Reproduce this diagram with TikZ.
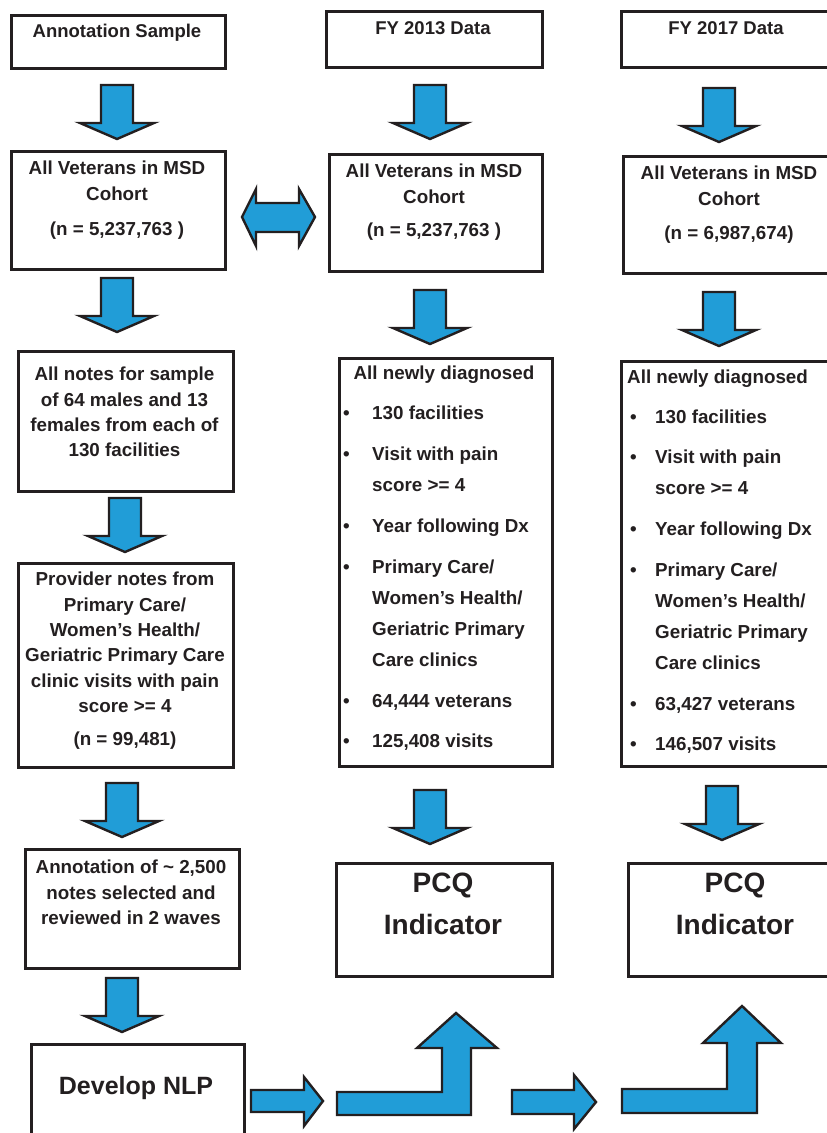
\documentclass[tikz,border=0pt]{standalone}
\usepackage{fontspec}
\setmainfont{Liberation Sans}
\definecolor{arrowblue}{RGB}{33,157,215}
\definecolor{ink}{RGB}{35,31,32}
\tikzset{
  box/.style={draw=ink, line width=2.6pt, inner sep=0pt, anchor=north west},
  txt/.style={font=\bfseries\fontsize{18.8}{25.3}\selectfont, align=center, inner sep=0pt, anchor=north, text=ink},
  toptxt/.style={font=\bfseries\fontsize{18.5}{24}\selectfont, inner sep=0pt, anchor=north, text=ink},
  bigtxt/.style={font=\bfseries\fontsize{28}{42}\selectfont, align=center, inner sep=0pt, anchor=north, text=ink},
  blist/.style={font=\bfseries\fontsize{18.8}{31}\selectfont, align=left, inner sep=0pt, anchor=north west, text=ink},
  barrow/.style={fill=arrowblue, draw=ink, line width=2.4pt, line join=miter},
}
\newcommand\dnarrow[2]{\draw[barrow] (#1-16,#2) -- (#1+16,#2) -- (#1+16,#2+38) -- (#1+37,#2+38) -- (#1,#2+54) -- (#1-37,#2+38) -- (#1-16,#2+38) -- cycle;}
\newcommand\bul[1]{\makebox[#1][l]{\textbullet}}
\newcommand\ind[1]{\makebox[#1]{}}
\begin{document}
\begin{tikzpicture}[x=1pt,y=-1pt]
\useasboundingbox (0,0) rectangle (827,1133);
\clip (0,0) rectangle (827,1133);
% ---------- left column ----------
\node[box, minimum width=214pt, minimum height=53pt] (L1) at (10,14) {};
\node[toptxt] (L1t) at (117,24) {Annotation Sample};
\node[box, minimum width=214pt, minimum height=118pt] (L2) at (10,150) {};
\node[txt] (L2t) at (117,161) {All Veterans in MSD\\Cohort\\[10pt](n = 5,237,763 )};
\node[box, minimum width=215pt, minimum height=140pt] (L3) at (17,350) {};
\node[txt] (L3t) at (124.5,367) {All notes for sample\\of 64 males and 13\\females from each of\\130 facilities};
\node[box, minimum width=215pt, minimum height=204pt] (L4) at (17,562) {};
\node[txt] (L4t) at (125,572) {Provider notes from\\Primary Care/\\Women’s Health/\\Geriatric Primary Care\\clinic visits with pain\\score >= 4\\[8pt](n = 99,481)};
\node[box, minimum width=214pt, minimum height=119pt] (L5) at (24,848) {};
\node[txt] (L5t) at (131,860) {Annotation of \textasciitilde{} 2,500\\notes selected and\\reviewed in 2 waves};
\node[box, minimum width=213pt, minimum height=120pt] (L6) at (30,1043) {};
\node[bigtxt, font=\bfseries\fontsize{25}{30}\selectfont] (L6t) at (136,1076) {Develop NLP};
% ---------- middle column ----------
\node[box, minimum width=216pt, minimum height=56pt] (M1) at (325,10) {};
\node[toptxt] (M1t) at (433,21) {FY 2013 Data};
\node[box, minimum width=213pt, minimum height=117pt] (M2) at (328,153) {};
\node[txt] (M2t) at (434,164) {All Veterans in MSD\\Cohort\\[8pt](n = 5,237,763 )};
\node[box, minimum width=213pt, minimum height=408pt] (M3) at (338,357) {};
\node[txt] (M3h) at (444,366) {All newly diagnosed};
\node[blist] (M3t) at (343,406) {\bul{29pt}130 facilities\\[10pt]
\bul{29pt}Visit with pain\\\ind{29pt}score >= 4\\[10pt]
\bul{29pt}Year following Dx\\[10pt]
\bul{29pt}Primary Care/\\\ind{29pt}Women’s Health/\\\ind{29pt}Geriatric Primary\\\ind{29pt}Care clinics\\[10pt]
\bul{29pt}64,444 veterans\\[9pt]
\bul{29pt}125,408 visits};
\node[box, minimum width=216pt, minimum height=113pt] (M4) at (335,862) {};
\node[bigtxt] (M4t) at (443,873) {PCQ\\Indicator};
% ---------- right column ----------
\node[box, minimum width=216pt, minimum height=56pt] (R1) at (620,10) {};
\node[toptxt] (R1t) at (726,21) {FY 2017 Data};
\node[box, minimum width=214pt, minimum height=117pt] (R2) at (622,155) {};
\node[txt] (R2t) at (729,166) {All Veterans in MSD\\Cohort\\[9pt](n = 6,987,674)};
\node[box, minimum width=216pt, minimum height=405pt] (R3) at (620,360) {};
\node[txt, anchor=north west] (R3h) at (627,370) {All newly diagnosed};
\node[blist] (R3t) at (630,410) {\bul{25pt}130 facilities\\[9pt]
\bul{25pt}Visit with pain\\\ind{25pt}score >= 4\\[10pt]
\bul{25pt}Year following Dx\\[10pt]
\bul{25pt}Primary Care/\\\ind{25pt}Women’s Health/\\\ind{25pt}Geriatric Primary\\\ind{25pt}Care clinics\\[10pt]
\bul{25pt}63,427 veterans\\[9pt]
\bul{25pt}146,507 visits};
\node[box, minimum width=216pt, minimum height=113pt] (R4) at (627,862) {};
\node[bigtxt] (R4t) at (735,873) {PCQ\\Indicator};
% ---------- block arrows ----------
\dnarrow{117}{85}
\dnarrow{430}{85}
\dnarrow{719}{88}
\dnarrow{117}{278}
\dnarrow{430}{290}
\dnarrow{719}{292}
\dnarrow{125}{498}
\dnarrow{122}{783}
\dnarrow{430}{790}
\dnarrow{722}{786}
\dnarrow{122}{978}
% double arrow between cohort boxes
\draw[barrow] (242,217) -- (256,189) -- (256,203) -- (299,203) -- (299,189) -- (315,217) -- (299,246) -- (299,232) -- (256,232) -- (256,246) -- cycle;
% bottom arrows
\draw[barrow] (251,1090) -- (304,1090) -- (304,1077) -- (323,1101) -- (304,1126) -- (304,1112) -- (251,1112) -- cycle;
\draw[barrow] (337,1092) -- (442,1092) -- (442,1048) -- (417,1048) -- (456,1013) -- (497,1048) -- (471,1048) -- (471,1115) -- (337,1115) -- cycle;
\draw[barrow] (512,1090) -- (574,1090) -- (574,1075) -- (596,1102) -- (574,1129) -- (574,1114) -- (512,1114) -- cycle;
\draw[barrow] (622,1089) -- (727,1089) -- (727,1043) -- (703,1043) -- (742,1006) -- (781,1043) -- (757,1043) -- (757,1113) -- (622,1113) -- cycle;
\end{tikzpicture}
\end{document}
